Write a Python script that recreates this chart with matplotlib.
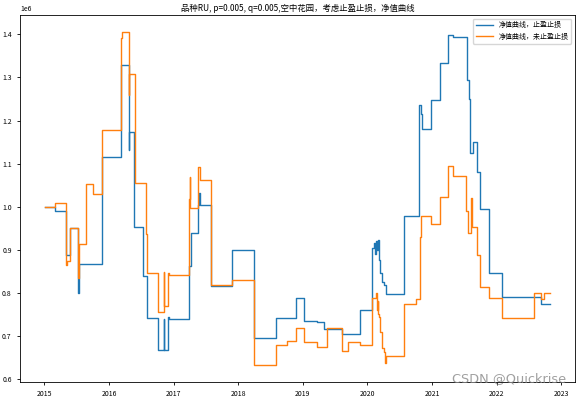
import pandas as pd
import matplotlib
matplotlib.use("Agg")
import matplotlib.pyplot as plt
import matplotlib.dates as mdates

plt.rcParams['font.family'] = ['Noto Sans CJK SC', 'DejaVu Sans']
plt.rcParams['axes.unicode_minus'] = False

# 净值曲线，止盈止损
stop_dates = [
    '2015-01-05', '2015-02-28', '2015-05-01', '2015-05-27', '2015-07-09', '2015-07-14',
    '2015-11-20', '2016-03-10', '2016-04-20', '2016-04-24', '2016-05-22', '2016-07-13',
    '2016-07-31', '2016-10-05', '2016-11-06', '2016-11-09', '2016-11-28', '2016-12-06',
    '2017-03-26', '2017-04-09', '2017-05-19', '2017-05-23', '2017-05-27', '2017-07-31',
    '2017-11-24', '2017-11-28', '2018-03-28', '2018-08-04', '2018-11-24', '2019-01-05',
    '2019-03-22', '2019-05-01', '2019-08-08', '2019-11-18', '2020-01-27', '2020-02-06',
    '2020-02-10', '2020-02-17', '2020-02-24', '2020-03-03', '2020-03-06', '2020-03-14',
    '2020-03-25', '2020-04-05', '2020-04-16', '2020-07-27', '2020-10-20', '2020-10-27',
    '2020-11-03', '2020-12-28', '2021-02-17', '2021-03-29', '2021-04-27', '2021-07-16',
    '2021-07-27', '2021-07-31', '2021-08-18', '2021-09-13', '2021-10-01', '2021-11-21',
    '2022-02-02', '2022-09-06', '2022-10-27',
]
stop_nav = [
    1.000, 0.989, 0.889, 0.950, 0.799, 0.866,
    1.116, 1.329, 1.131, 1.173, 0.953, 0.839,
    0.741, 0.668, 0.740, 0.668, 0.745, 0.740,
    0.862, 0.939, 1.004, 1.031, 1.005, 0.816,
    0.885, 0.899, 0.696, 0.742, 0.789, 0.735,
    0.733, 0.715, 0.704, 0.760, 0.903, 0.915,
    0.890, 0.920, 0.900, 0.922, 0.876, 0.845,
    0.826, 0.819, 0.797, 0.978, 1.235, 1.216,
    1.180, 1.247, 1.334, 1.398, 1.393, 1.294,
    1.249, 1.124, 1.151, 1.081, 0.994, 0.845,
    0.791, 0.774, 0.774,
]

# 净值曲线，未止盈止损
nostop_dates = [
    '2015-01-05', '2015-02-28', '2015-05-01', '2015-05-08', '2015-05-27', '2015-07-09',
    '2015-07-14', '2015-08-22', '2015-10-05', '2015-11-20', '2016-03-10', '2016-03-17',
    '2016-04-20', '2016-04-24', '2016-05-27', '2016-07-27', '2016-07-31', '2016-10-05',
    '2016-11-06', '2016-11-09', '2016-11-28', '2016-12-06', '2017-03-26', '2017-04-02',
    '2017-04-05', '2017-05-19', '2017-05-27', '2017-07-31', '2017-11-24', '2018-03-28',
    '2018-08-04', '2018-10-01', '2018-11-24', '2019-01-05', '2019-03-22', '2019-05-15',
    '2019-08-08', '2019-09-13', '2019-11-18', '2020-01-27', '2020-02-17', '2020-02-24',
    '2020-02-28', '2020-03-03', '2020-03-06', '2020-03-14', '2020-03-25', '2020-04-05',
    '2020-04-12', '2020-04-16', '2020-07-27', '2020-10-01', '2020-10-23', '2020-10-31',
    '2020-12-28', '2021-02-17', '2021-03-29', '2021-04-27', '2021-07-09', '2021-07-20',
    '2021-08-11', '2021-08-15', '2021-09-13', '2021-10-01', '2021-11-21', '2022-02-02',
    '2022-07-28', '2022-09-06', '2022-09-24', '2022-10-27',
]
nostop_nav = [
    1.000, 1.008, 0.865, 0.873, 0.950, 0.835,
    0.913, 1.053, 1.029, 1.179, 1.392, 1.406,
    1.259, 1.307, 1.056, 0.936, 0.847, 0.755,
    0.848, 0.769, 0.845, 0.841, 1.019, 1.069,
    0.996, 1.093, 1.062, 0.818, 0.830, 0.632,
    0.679, 0.689, 0.719, 0.687, 0.675, 0.718,
    0.665, 0.686, 0.680, 0.787, 0.799, 0.760,
    0.780, 0.752, 0.745, 0.710, 0.671, 0.662,
    0.638, 0.654, 0.774, 0.785, 0.930, 0.978,
    0.960, 1.023, 1.094, 1.071, 0.990, 0.940,
    1.020, 0.953, 0.888, 0.814, 0.789, 0.741,
    0.799, 0.785, 0.800, 0.800,
]

title = '品种RU, p=0.005, q=0.005,空中花园，考虑止盈止损，净值曲线'
labels = ['净值曲线，止盈止损', '净值曲线，未止盈止损']

fig = plt.figure(figsize=(5.81, 3.97), dpi=100)
ax = fig.add_axes([0.0344, 0.038, 0.955, 0.924])

ax.step(pd.to_datetime(stop_dates), [v * 1e6 for v in stop_nav], where='post',
        lw=1.0, color='tab:blue', label=labels[0])
ax.step(pd.to_datetime(nostop_dates), [v * 1e6 for v in nostop_nav], where='post',
        lw=1.0, color='tab:orange', label=labels[1])

ax.xaxis.set_major_locator(mdates.YearLocator())
ax.xaxis.set_major_formatter(mdates.DateFormatter('%Y'))
ax.tick_params(labelsize=5, length=2.5, width=0.6)
ax.yaxis.get_offset_text().set_fontsize(5)
for s in ax.spines.values():
    s.set_linewidth(0.6)

ax.set_title(title, fontsize=6, pad=3)
ax.legend(loc='upper right', fontsize=5, handlelength=2.5, framealpha=0.8)

# watermark
fig.text(0.974, 0.03, 'CSDN @Quickrise', ha='right', va='bottom', fontsize=9.3,
         color='#888888', alpha=0.8, family='DejaVu Sans')

fig.savefig('out.png', dpi=100)
